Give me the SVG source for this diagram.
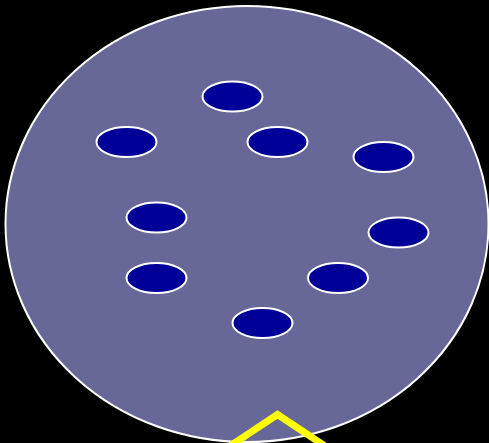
<svg xmlns="http://www.w3.org/2000/svg" width="489" height="443" viewBox="0 0 489 443">
<style>
.n{fill:#000099;stroke:#ffffff;stroke-width:2}
</style>
<rect width="489" height="443" fill="#000000"/>
<g id="circle"><ellipse cx="247" cy="224" rx="241.5" ry="218" fill="#686898" stroke="#ffffff" stroke-width="2"/></g>
<g id="n1"><ellipse class="n" cx="232.5" cy="96.5" rx="30" ry="15"/></g>
<g id="n2"><ellipse class="n" cx="126.5" cy="142" rx="30" ry="15"/></g>
<g id="n3"><ellipse class="n" cx="277.5" cy="142" rx="30" ry="15"/></g>
<g id="n4"><ellipse class="n" cx="383.5" cy="157" rx="30" ry="15"/></g>
<g id="n5"><ellipse class="n" cx="156.5" cy="217.5" rx="30" ry="15"/></g>
<g id="n6"><ellipse class="n" cx="398.5" cy="232.5" rx="30" ry="15"/></g>
<g id="n7"><ellipse class="n" cx="156.5" cy="278" rx="30" ry="15"/></g>
<g id="n8"><ellipse class="n" cx="338" cy="278" rx="30" ry="15"/></g>
<g id="n9"><ellipse class="n" cx="262.5" cy="323" rx="30" ry="15"/></g>
<g id="connectors"><polyline points="218,454 277.5,414.5 337,454" fill="none" stroke="#ffff00" stroke-width="7"/></g>
</svg>
